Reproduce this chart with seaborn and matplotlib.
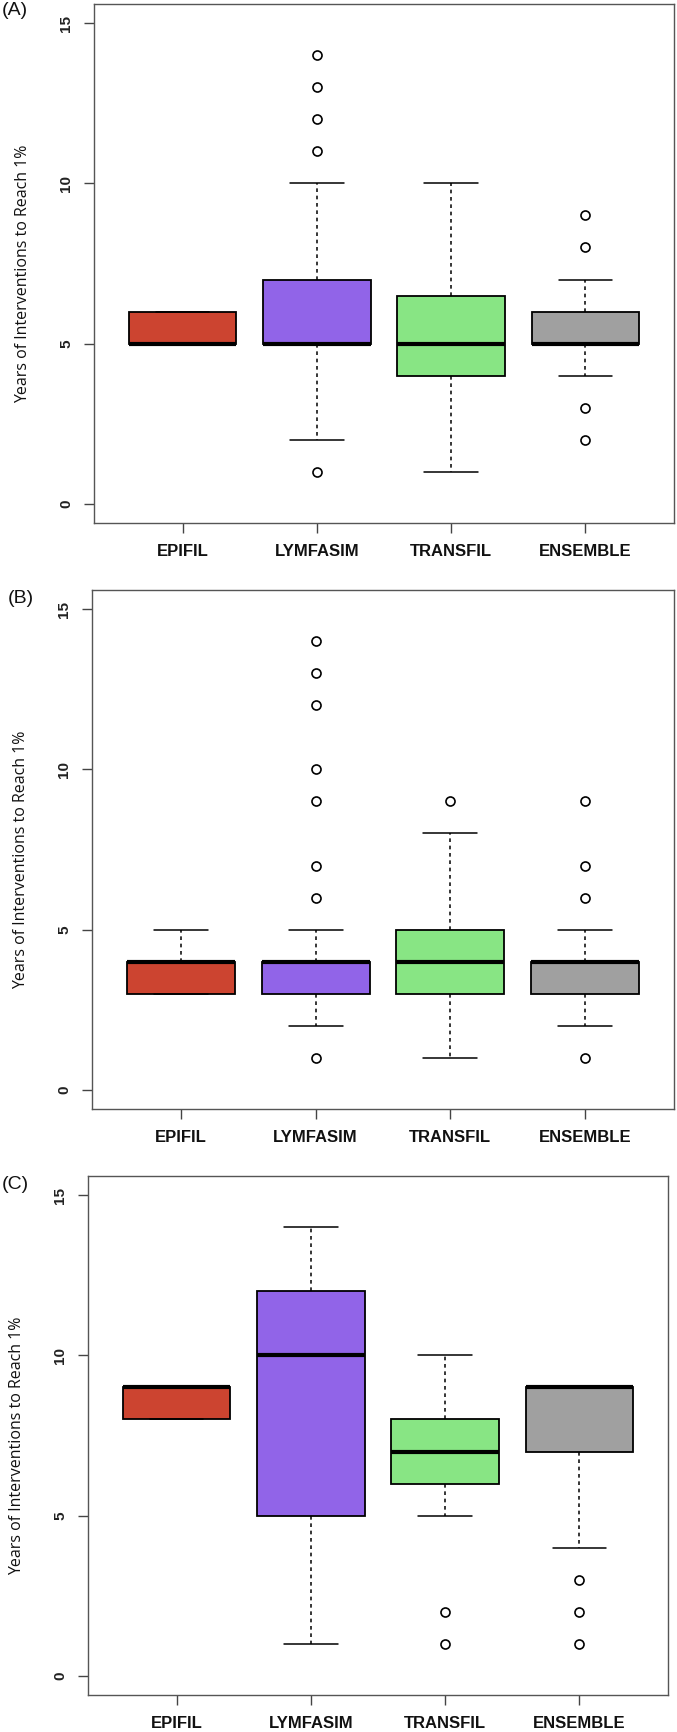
import matplotlib
matplotlib.use('Agg')
import matplotlib.pyplot as plt
import seaborn as sns

# Summary statistics, one list per panel
models = ['EPIFIL', 'LYMFASIM', 'TRANSFIL', 'ENSEMBLE']
colors = ['#CC4430', '#9164E8', '#88E584', '#A0A0A0']
panels = ['(A)', '(B)', '(C)']

q1_a = [5, 5, 4, 5]
med_a = [5, 5, 5, 5]
q3_a = [6, 7, 6.5, 6]
lo_a = [5, 2, 1, 4]
hi_a = [6, 10, 10, 7]
out_a = [[], [1, 11, 12, 13, 14], [], [2, 3, 8, 9]]

q1_b = [3, 3, 3, 3]
med_b = [4, 4, 4, 4]
q3_b = [4, 4, 5, 4]
lo_b = [3, 2, 1, 2]
hi_b = [5, 5, 8, 5]
out_b = [[], [1, 6, 7, 9, 10, 12, 13, 14], [9], [1, 6, 7, 9]]

q1_c = [8, 5, 6, 7]
med_c = [9, 10, 7, 9]
q3_c = [9, 12, 8, 9]
lo_c = [8, 1, 5, 4]
hi_c = [9, 14, 10, 9]
out_c = [[], [], [1, 2], [1, 2, 3]]

ylabel = 'Years of Interventions to Reach 1%'

sns.set_style('white')
plt.rcParams['font.family'] = ['Liberation Sans', 'DejaVu Sans']

fig = plt.figure(figsize=(6.77, 17.32), dpi=100)

# axes boxes in pixels (left, top, right, bottom)
boxes = [(94, 4, 674, 523), (92, 590, 674, 1109), (88, 1176, 668, 1695)]
label_pos = [(2, 2), (8, 590), (2, 1176)]

panel_data = [
    (q1_a, med_a, q3_a, lo_a, hi_a, out_a),
    (q1_b, med_b, q3_b, lo_b, hi_b, out_b),
    (q1_c, med_c, q3_c, lo_c, hi_c, out_c),
]

W, H = 677, 1732
for (l, t, r, b), (q1, med, q3, lo, hi, out), name, (lx, ly) in zip(boxes, panel_data, panels, label_pos):
    ax = fig.add_axes([l / W, (H - b) / H, (r - l) / W, (b - t) / H])
    stats = []
    for i in range(len(models)):
        stats.append({'q1': q1[i], 'med': med[i], 'q3': q3[i],
                      'whislo': lo[i], 'whishi': hi[i], 'fliers': out[i],
                      'label': models[i]})
    bp = ax.bxp(stats, positions=range(1, 5), widths=0.8, capwidths=0.4,
                patch_artist=True, showfliers=True,
                boxprops=dict(linewidth=1.3, edgecolor='black'),
                medianprops=dict(color='black', linewidth=3, solid_capstyle='butt'),
                whiskerprops=dict(color='black', linewidth=1.1, linestyle=(0, (2.4, 2.4))),
                capprops=dict(color='black', linewidth=1.1),
                flierprops=dict(marker='o', markerfacecolor='none', markeredgecolor='black',
                                markersize=6.5, markeredgewidth=1.2))
    for patch, c in zip(bp['boxes'], colors):
        patch.set_facecolor(c)

    ax.set_xlim(0.34, 4.66)
    ax.set_ylim(-0.6, 15.6)
    ax.set_yticks([0, 5, 10, 15])
    ax.set_yticklabels(['0', '5', '10', '15'], rotation=90, va='center',
                       fontsize=11, fontweight='bold', color='#222222')
    ax.set_xticks(range(1, 5))
    ax.set_xticklabels(models, fontsize=12, fontweight='bold',
                       family=['Liberation Sans Narrow', 'Liberation Sans'], color='#111111')
    ax.tick_params(axis='both', direction='out', length=7, width=1, color='#444444',
                   pad=8, left=True, bottom=True)
    for s in ax.spines.values():
        s.set_color('#555555')
        s.set_linewidth(1.0)
    ax.set_ylabel(ylabel, fontsize=11.5, family=['Open Sans', 'DejaVu Sans'], color='#111111')
    ax.yaxis.set_label_coords(-0.108, 0.48)
    ax.grid(False)

    fig.text(lx / W, 1 - ly / H, name, fontsize=14, ha='left', va='top', color='#111111')

fig.savefig('out.png', dpi=100)
